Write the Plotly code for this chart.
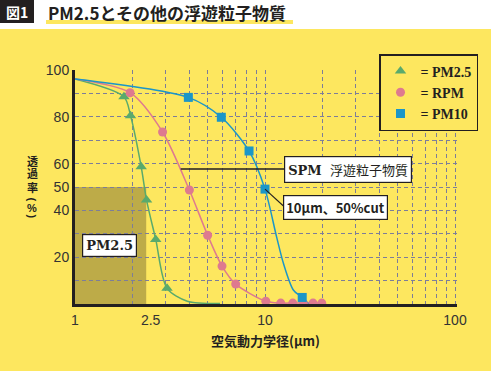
import plotly.graph_objects as go

# ---------------- data ----------------
start_x = [1.0]
start_y = [96.2]

pm25_x = [1.81, 1.96, 2.23, 2.38, 2.66, 3.05]
pm25_y = [88.6, 80.5, 58.7, 44.4, 27.6, 6.7]
pm25_tail_x = [3.9, 5.8]
pm25_tail_y = [1.2, 0.2]

rpm_x = [1.95, 2.89, 4.0, 4.99, 5.94, 7.01, 10.1, 12.1, 14.0, 15.9, 17.9, 19.9]
rpm_y = [90.3, 73.5, 48.7, 29.4, 16.2, 8.5, 1.2, 0.4, 0.4, 0.4, 0.4, 0.4]

pm10_x = [3.95, 5.89, 8.24, 10.0, 15.7]
pm10_y = [88.3, 79.8, 65.4, 49.1, 2.8]
pm10_mid_x = [11.5, 12.5, 14.1]
pm10_mid_y = [28.8, 17.4, 6.0]
pm10_tail_x = [17.0]
pm10_tail_y = [0.0]

x_tickvals = [1, 2.5, 10, 100]
x_ticktext = ["1", "2.5", "10", "100"]
x_grid = [2, 3, 4, 5, 6, 7, 8, 9, 10, 20, 30, 40, 50, 60, 70, 80, 90, 100]
y_tickvals = [20, 40, 50, 60, 80, 100]

pm25_cut_x = 2.37
spm_line_x = 3.6
spm_line_y = 57.7

ylabel_chars = ["透", "過", "率", "(", "%", ")"]

# ---------------- styles ----------------
GREEN = "#5AAA6C"
PINK = "#DE7A8F"
BLUE = "#1B96C8"
BG = "#FDE75F"
OLIVE = "#BDAB48"
GRID = "#7D7D99"
INK = "#231F20"

W, H = 491, 371
L, R, T, B = 75, 457, 70, 304


def px(x):
    return (x - L) / (R - L)


def py(y):
    return (B - y) / (B - T)


def merge(*pairs):
    pts = []
    for xs, ys in pairs:
        pts += list(zip(xs, ys))
    pts.sort()
    return [p[0] for p in pts], [p[1] for p in pts]


fig = go.Figure()

series = [
    ("<b>= PM2.5</b>", GREEN, "triangle-up", 10, pm25_x, pm25_y, [(start_x, start_y), (pm25_x, pm25_y), (pm25_tail_x, pm25_tail_y)]),
    ("<b>= RPM</b>", PINK, "circle", 9, rpm_x, rpm_y, [(start_x, start_y), (rpm_x, rpm_y)]),
    ("<b>= PM10</b>", BLUE, "square", 9, pm10_x, pm10_y, [(start_x, start_y), (pm10_x, pm10_y), (pm10_mid_x, pm10_mid_y), (pm10_tail_x, pm10_tail_y)]),
]

for name, col, sym, size, mx, my, parts in series:
    cx, cy = merge(*parts)
    fig.add_trace(go.Scatter(x=cx, y=cy, mode="lines", line=dict(color=col, width=1.5, shape="spline", smoothing=0.8),
                             showlegend=False, hoverinfo="skip"))
for name, col, sym, size, mx, my, parts in series:
    fig.add_trace(go.Scatter(x=mx, y=my, mode="markers", name=name,
                             marker=dict(color=col, symbol=sym, size=size, line=dict(width=0)),
                             cliponaxis=True))

# shaded PM2.5 region
fig.add_shape(type="rect", xref="x", yref="y", x0=1, x1=pm25_cut_x, y0=0, y1=50,
              fillcolor=OLIVE, line=dict(width=0), layer="below")

# pointer lines
fig.add_shape(type="line", xref="x", yref="y", x0=spm_line_x, x1=10 ** ((284 - L) / 190), y0=spm_line_y, y1=spm_line_y,
              line=dict(color=INK, width=1.3))
fig.add_shape(type="line", xref="x", yref="y", x0=pm10_x[3], y0=pm10_y[3],
              x1=10 ** ((284 - L) / 190), y1=(B - 206.5) / 2.34, line=dict(color=INK, width=1.1))

# header
fig.add_shape(type="rect", xref="paper", yref="paper", x0=px(-5), x1=px(W + 5), y0=py(29), y1=py(-5),
              fillcolor="white", line=dict(width=0), layer="below")
fig.add_shape(type="rect", xref="paper", yref="paper", x0=px(-5), x1=px(34), y0=py(23), y1=py(-5),
              fillcolor=INK, line=dict(width=0))
fig.add_shape(type="rect", xref="paper", yref="paper", x0=px(46), x1=px(293), y0=py(24), y1=py(20),
              fillcolor=BG, line=dict(width=0))

ann = []
ann.append(dict(text="<b>図1</b>", x=px(17), y=py(11.5), xref="paper", yref="paper", showarrow=False,
                font=dict(family="Noto Sans CJK JP", size=14, color="white"), xanchor="center", yanchor="middle"))
ann.append(dict(text="<b>PM2.5とその他の浮遊粒子物質</b>", x=px(46), y=py(12), xref="paper", yref="paper", showarrow=False,
                font=dict(family="Noto Sans CJK JP", size=17, color=INK), xanchor="left", yanchor="middle"))

# boxes
ann.append(dict(text="<b>SPM</b>  <span style='font-family:Noto Sans CJK JP'>浮遊粒子物質</span>",
                x=px(347.5), y=py(169.5), xref="paper", yref="paper", showarrow=False,
                font=dict(family="DejaVu Serif", size=13, color=INK), xanchor="center", yanchor="middle",
                bgcolor="white", bordercolor=INK, borderwidth=1.2, borderpad=3))
ann.append(dict(text="<b>10μm、50%cut</b>",
                x=px(335.5), y=py(207.5), xref="paper", yref="paper", showarrow=False,
                font=dict(family="Noto Sans CJK JP", size=13, color=INK), xanchor="center", yanchor="middle",
                bgcolor="white", bordercolor=INK, borderwidth=1.2, borderpad=2))
ann.append(dict(text="<b>PM2.5</b>",
                x=px(109), y=py(245.8), xref="paper", yref="paper", showarrow=False,
                font=dict(family="DejaVu Serif", size=13, color=INK), xanchor="center", yanchor="middle",
                bgcolor="white", bordercolor=INK, borderwidth=1.2, borderpad=3))

# axis titles
ann.append(dict(text="<b>空気動力学径(μm)</b>", x=px(265), y=py(340), xref="paper", yref="paper", showarrow=False,
                font=dict(family="Noto Sans CJK JP", size=13, color=INK), xanchor="center", yanchor="middle"))
ylab_y = [161, 174, 187, 199.5, 208, 216.5]
ylab_rot = [0, 0, 0, 90, 0, 90]
for ch, yy, rot in zip(ylabel_chars, ylab_y, ylab_rot):
    ann.append(dict(text="<b>%s</b>" % ch, x=px(32), y=py(yy), xref="paper", yref="paper", showarrow=False,
                    textangle=rot,
                    font=dict(family="Liberation Sans, Noto Sans CJK JP", size=11, color=INK),
                    xanchor="center", yanchor="middle"))

fig.update_layout(
    width=W, height=H,
    margin=dict(l=L, r=W - R, t=T, b=H - B, pad=0, autoexpand=False),
    paper_bgcolor=BG, plot_bgcolor=BG,
    annotations=ann,
    showlegend=True,
    legend=dict(x=px(379), y=py(54), xanchor="left", yanchor="top", xref="paper", yref="paper",
                bgcolor=BG, bordercolor=INK, borderwidth=1.5,
                font=dict(family="Liberation Serif", size=14, color=INK),
                itemwidth=30, tracegroupgap=0, itemsizing="trace"),
)
fig.update_xaxes(type="log", range=[0, (R - L) / 190], tickvals=x_tickvals, ticktext=x_ticktext,
                 showgrid=False, zeroline=False, showline=True, linecolor=INK, linewidth=3,
                 ticks="", ticklabelstandoff=1, automargin=False,
                 tickfont=dict(family="Liberation Sans", size=14, color="#333333"),
                 minor=dict(tickvals=x_grid, showgrid=True, gridcolor=GRID, griddash="4px,3px", gridwidth=1, ticks=""))
fig.update_yaxes(range=[0, 100], tickvals=y_tickvals, showgrid=True, gridcolor=GRID, griddash="4px,3px", gridwidth=1,
                 zeroline=False, showline=True, linecolor=INK, linewidth=3, ticks="", ticklabelstandoff=0, automargin=False,
                 tickfont=dict(family="Liberation Sans", size=14, color="#333333"),
                 minor=dict(dtick=10, tick0=0, showgrid=True, gridcolor=GRID, griddash="4px,3px", gridwidth=1, ticks=""))

fig.write_html("out.html", config={"displayModeBar": False},
               post_script="document.body.style.margin='0px';")
